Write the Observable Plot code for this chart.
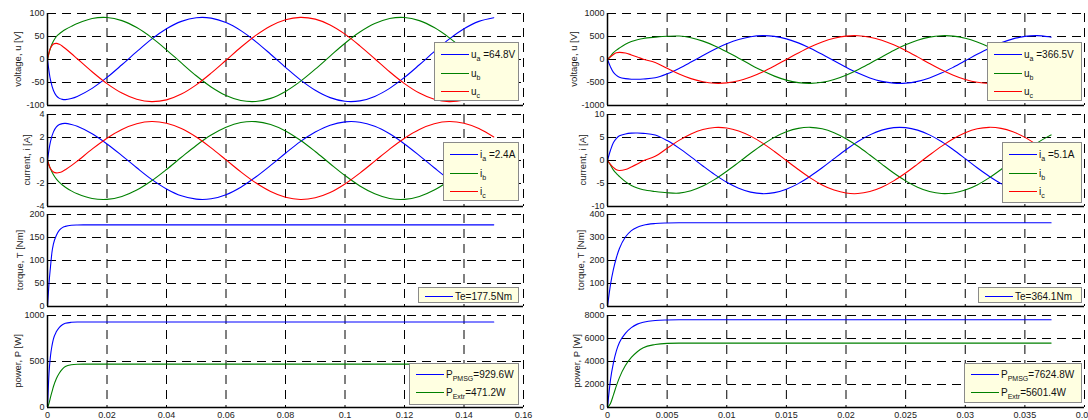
<!DOCTYPE html>
<html><head><meta charset="utf-8">
<script src="https://cdn.jsdelivr.net/npm/d3@7"></script>
<script src="https://cdn.jsdelivr.net/npm/@observablehq/plot@0.6"></script>
<style>
html,body{margin:0;padding:0;background:#fff;overflow:hidden}
#chart{position:relative;width:1088px;height:420px;font-family:"Liberation Sans",Arial,sans-serif;color:#222;background:#fff;overflow:hidden}
.ylab{position:absolute;font-size:9.5px;white-space:nowrap;transform:translate(-50%,-50%) rotate(-90deg);color:#222}
.leg{position:absolute;background:#ffffe1;border:1px solid #8a8a8a;box-sizing:border-box;font-size:10px;color:#111}
.row{position:absolute;left:6px;display:flex;align-items:center;height:14px;white-space:nowrap}
.sw{display:inline-block;width:28px;height:1px;margin-right:2px}
sub{font-size:7px;vertical-align:-3px;line-height:0}
</style></head><body><div id="chart"></div><script>
// ---------- LEFT column data (time in s) ----------
const tL = [0,0.001,0.002,0.003,0.004,0.005,0.006,0.008,0.01,0.015,0.02,0.025,0.03,0.035,0.04,0.045,0.05,0.055,0.06,0.065,0.07,0.075,0.08,0.085,0.09,0.095,0.1,0.105,0.11,0.115,0.12,0.125,0.13,0.135,0.14,0.145,0.15];
const uaL = [0,-44.5,-67.4,-79.0,-84.5,-86.7,-87.2,-84.7,-80.2,-62.7,-39.0,-11.5,17.1,44.2,66.8,82.9,90.9,90.0,80.2,62.7,39.0,11.5,-17.1,-44.2,-66.8,-82.9,-90.9,-90.0,-80.2,-62.7,-39.0,-11.5,17.1,44.2,66.8,82.9,90.9];
const ubL = [0,25,40,50,56,61,65,72,78.1,89.1,91.3,84.5,69.4,47.6,21.1,-7.5,-35.4,-59.7,-78.2,-89.1,-91.3,-84.5,-69.4,-47.6,-21.1,7.5,35.4,59.7,78.2,89.1,91.3,84.5,69.4,47.6,21.1,-7.5,-35.4];
const ucL = [0,24.7,33.6,35.1,32.9,28.9,24.0,13.1,1.7,-26.7,-52.4,-73.0,-86.6,-91.6,-87.7,-75.1,-55.1,-29.7,-1.7,26.7,52.4,73.0,86.6,91.6,87.7,75.1,55.1,29.7,1.7,-26.7,-52.4,-73.0,-86.6,-91.6,-87.7,-75.1,-55.1];
const iaL = [0,1.65,2.49,2.92,3.13,3.21,3.23,3.13,2.97,2.32,1.44,0.43,-0.63,-1.64,-2.47,-3.07,-3.36,-3.33,-2.97,-2.32,-1.44,-0.43,0.63,1.64,2.47,3.07,3.36,3.33,2.97,2.32,1.44,0.43,-0.63,-1.64,-2.47,-3.07,-3.36];
const ibL = [0,-0.73,-1.24,-1.62,-1.90,-2.13,-2.32,-2.64,-2.89,-3.30,-3.38,-3.13,-2.57,-1.76,-0.78,0.28,1.31,2.21,2.89,3.30,3.38,3.13,2.57,1.76,0.78,-0.28,-1.31,-2.21,-2.89,-3.30,-3.38,-3.13,-2.57,-1.76,-0.78,0.28,1.31];
const icL = [0,-0.7,-1.0,-1.08,-1.05,-0.95,-0.8,-0.45,-0.06,0.99,1.94,2.70,3.20,3.39,3.24,2.78,2.04,1.10,0.06,-0.99,-1.94,-2.70,-3.20,-3.39,-3.24,-2.78,-2.04,-1.10,-0.06,0.99,1.94,2.70,3.20,3.39,3.24,2.78,2.04];
const tTL = [0,0.0005,0.001,0.0015,0.002,0.003,0.004,0.005,0.006,0.008,0.01,0.012,0.15];
const teL = [0,50,86,118,136,155,166,171.5,174.2,176.7,177.3,177.5,177.5];
const pPmsgL = [0,370,560,670,745,825,872,900,915,926,929,929.6,929.6];
const pExtrL = [0,45,110,170,228,315,375,418,445,465,470,471.2,471.2];

// ---------- RIGHT column data ----------
const tR = [0,0.00025,0.0005,0.00075,0.001,0.0015,0.002,0.0025,0.003,0.004,0.005,0.006,0.007,0.008,0.009,0.01,0.011,0.012,0.013,0.014,0.015,0.016,0.017,0.018,0.019,0.02,0.021,0.022,0.023,0.024,0.025,0.026,0.027,0.028,0.029,0.03,0.031,0.032,0.033,0.034,0.035,0.036,0.037,0.0372];
const uaR = [0,-160,-280,-345,-385,-415,-428,-430,-424,-398.6,-311.5,-193.4,-56.7,85.4,221.1,340.5,433.8,494.5,518.3,502.2,448.9,361.3,246.2,113.5,-28.5,-168.4,-296.0,-400.1,-474.8,-513.1,-513.6,-474.8,-400.1,-296.0,-168.4,-29.0,113.5,246.2,361.3,448.9,502.2,518.3,494.5,485.6];
const ubR = [0,70,150,205,250,330,390,430,458,485,505,510,472.4,399.4,295.7,168.4,29.0,-113.0,-246.2,-361.3,-448.9,-502.2,-518.3,-495.0,-434.3,-340.5,-221.8,-85.5,56.5,195.4,318.2,417.7,485.6,516.7,508.5,462.3,381.5,271.6,141.0,0,-141.0,-271.6,-381.0,-399.6];
const ucR = [0,60,110,145,155,140,100,55,5,-65,-191.3,-315.0,-415.7,-484.7,-516.2,-508.5,-462.3,-381.0,-271.6,-141.0,0.5,141.0,271.6,381.5,462.3,509.0,516.7,485.1,417.7,318.2,195.4,57.0,-85.5,-221.3,-340.0,-433.3,-495.0,-518.3,-502.2,-448.9,-361.3,-246.2,-113.5,-85.5];
const iaR = [0,2.23,3.89,4.80,5.36,5.77,5.95,5.98,5.90,5.54,4.33,2.69,0.79,-1.19,-3.08,-4.74,-6.03,-6.88,-7.21,-6.99,-6.24,-5.03,-3.42,-1.58,0.40,2.34,4.12,5.57,6.60,7.14,7.14,6.60,5.57,4.12,2.34,0.40,-1.58,-3.42,-5.03,-6.24,-6.99,-7.21,-6.88,-6.75];
const ibR = [0,-0.97,-2.09,-2.85,-3.48,-4.59,-5.42,-5.98,-6.37,-6.75,-7.02,-7.09,-6.57,-5.56,-4.11,-2.34,-0.40,1.57,3.42,5.03,6.24,6.99,7.21,6.89,6.04,4.74,3.09,1.19,-0.79,-2.72,-4.43,-5.81,-6.75,-7.19,-7.07,-6.43,-5.31,-3.78,-1.96,0,1.96,3.78,5.30,5.56];
const icR = [0,-0.83,-1.53,-2.02,-2.16,-1.95,-1.39,-0.77,-0.07,0.9,2.66,4.38,5.78,6.74,7.18,7.07,6.43,5.30,3.78,1.96,-0.01,-1.96,-3.78,-5.31,-6.43,-7.08,-7.19,-6.75,-5.81,-4.43,-2.72,-0.79,1.19,3.08,4.73,6.03,6.89,7.21,6.99,6.24,5.03,3.42,1.58,1.19];
const tTR = [0,0.00025,0.0005,0.00075,0.001,0.0015,0.002,0.0025,0.003,0.004,0.005,0.006,0.0372];
const teR = [0,95,162,213,252,302,330,345,353.5,360.8,363.1,364.1,364.1];
const pPmsgR = [0,2400,3900,4950,5650,6450,6950,7250,7420,7570,7610,7624.8,7624.8];
const pExtrR = [0,350,1100,1900,2600,3650,4350,4850,5200,5480,5580,5601.4,5601.4];

// ---------- ticks ----------
const xTicksL = [0,0.02,0.04,0.06,0.08,0.1,0.12,0.14,0.16];
const xTicksR = [0,0.005,0.01,0.015,0.02,0.025,0.03,0.035,0.04];
const yTicksUL = [-100,-50,0,50,100], yTicksIL = [-4,-2,0,2,4], yTicksTL = [0,50,100,150,200], yTicksPL = [0,500,1000];
const yTicksUR = [-1000,-500,0,500,1000], yTicksIR = [-10,-5,0,5,10], yTicksTR = [0,100,200,300,400], yTicksPR = [0,2000,4000,6000,8000];

// ---------- labels ----------
const yLabels = ["voltage, u [V]", "current, i [A]", "torque, T [Nm]", "power,  P [W]"];
const legL = [["u<sub>a</sub> =64.8V","u<sub>b</sub>","u<sub>c</sub>"],["i<sub>a</sub> =2.4A","i<sub>b</sub>","i<sub>c</sub>"],["Te=177.5Nm"],["P<sub>PMSG</sub>=929.6W","P<sub>Extr</sub>=471.2W"]];
const legR = [["u<sub>a</sub> =366.5V","u<sub>b</sub>","u<sub>c</sub>"],["i<sub>a</sub> =5.1A","i<sub>b</sub>","i<sub>c</sub>"],["Te=364.1Nm"],["P<sub>PMSG</sub>=7624.8W","P<sub>Extr</sub>=5601.4W"]];

const BLUE = "#0000ff", GREEN = "#008000", RED = "#ff0000";
const chart = document.getElementById("chart");
const tops = [13, 113.5, 214, 315];
const PH = 92;
const zip = (t, v) => t.map((x, i) => ({t: x, v: v[i]}));

function panel(col, row, xDomain, xTicks, yTicks, series, showX) {
  const mL = col === 0 ? 47 : 63, mR = col === 0 ? 21 : 4;
  const mT = 10, mB = showX ? 22 : 10;
  const yDomain = [yTicks[0], yTicks[yTicks.length - 1]];
  const marks = [
    Plot.ruleY(yTicks, {stroke: "#000", strokeWidth: 1, strokeDasharray: "9,6"}),
    Plot.ruleX(xTicks, {stroke: "#000", strokeWidth: 1, strokeDasharray: "9,6"}),
    ...series.map(s => Plot.line(zip(s.t, s.v), {x: "t", y: "v", stroke: s.color, strokeWidth: 1.1, curve: s.curve || "catmull-rom"})),
    Plot.ruleX([xDomain[0]], {stroke: "#000", strokeWidth: 1.5}),
    Plot.ruleY([yDomain[0]], {stroke: "#000", strokeWidth: 1.5})
  ];
  const svg = Plot.plot({
    width: 544, height: PH + mT + mB,
    marginLeft: mL, marginRight: mR, marginTop: mT, marginBottom: mB,
    x: {domain: xDomain, ticks: xTicks, tickSize: 0, tickPadding: 4, tickFormat: d => String(d), label: null, axis: showX ? "bottom" : null},
    y: {domain: yDomain, ticks: yTicks, tickSize: 0, tickPadding: 3, tickFormat: d => String(d), label: null},
    style: {background: "transparent", overflow: "visible", fontSize: "9px", fontFamily: "'Liberation Sans', Arial, sans-serif", color: "#222"},
    marks
  });
  svg.style.position = "absolute";
  svg.style.left = (col === 0 ? 0 : 544) + "px";
  svg.style.top = (tops[row] - mT) + "px";
  chart.appendChild(svg);
}

function ylabel(text, cx, cy) {
  const d = document.createElement("div");
  d.className = "ylab"; d.textContent = text;
  d.style.left = cx + "px"; d.style.top = cy + "px";
  chart.appendChild(d);
}

function legend(x1, x2, y1, y2, rows, colors, centers) {
  const b = document.createElement("div");
  b.className = "leg";
  b.style.left = x1 + "px"; b.style.top = y1 + "px";
  b.style.width = (x2 - x1) + "px"; b.style.height = (y2 - y1) + "px";
  rows.forEach((html, i) => {
    const r = document.createElement("div");
    r.className = "row";
    r.style.top = (centers[i] - 7) + "px";
    r.innerHTML = `<span class="sw" style="background:${colors[i]}"></span><span>${html}</span>`;
    b.appendChild(r);
  });
  chart.appendChild(b);
}

const dL = [0, 0.16], dR = [0, 0.04];
// Left column
panel(0, 0, dL, xTicksL, yTicksUL, [{t: tL, v: uaL, color: BLUE}, {t: tL, v: ubL, color: GREEN}, {t: tL, v: ucL, color: RED}], false);
panel(0, 1, dL, xTicksL, yTicksIL, [{t: tL, v: iaL, color: BLUE}, {t: tL, v: ibL, color: GREEN}, {t: tL, v: icL, color: RED}], false);
panel(0, 2, dL, xTicksL, yTicksTL, [{t: tTL, v: teL, color: BLUE, curve: "monotone-x"}], false);
panel(0, 3, dL, xTicksL, yTicksPL, [{t: tTL, v: pPmsgL, color: BLUE, curve: "monotone-x"}, {t: tTL, v: pExtrL, color: GREEN, curve: "monotone-x"}], true);
// Right column
panel(1, 0, dR, xTicksR, yTicksUR, [{t: tR, v: uaR, color: BLUE}, {t: tR, v: ubR, color: GREEN}, {t: tR, v: ucR, color: RED}], false);
panel(1, 1, dR, xTicksR, yTicksIR, [{t: tR, v: iaR, color: BLUE}, {t: tR, v: ibR, color: GREEN}, {t: tR, v: icR, color: RED}], false);
panel(1, 2, dR, xTicksR, yTicksTR, [{t: tTR, v: teR, color: BLUE, curve: "monotone-x"}], false);
panel(1, 3, dR, xTicksR, yTicksPR, [{t: tTR, v: pPmsgR, color: BLUE, curve: "monotone-x"}, {t: tTR, v: pExtrR, color: GREEN, curve: "monotone-x"}], true);

// y labels
const mid = tops.map(t => t + PH / 2);
ylabel(yLabels[0], 17, mid[0]); ylabel(yLabels[1], 26, mid[1]); ylabel(yLabels[2], 19, mid[2]); ylabel(yLabels[3], 17, mid[3]);
ylabel(yLabels[0], 573, mid[0]); ylabel(yLabels[1], 582, mid[1]); ylabel(yLabels[2], 580, mid[2]); ylabel(yLabels[3], 576, mid[3]);

// legends
const C3 = [BLUE, GREEN, RED];
legend(434, 519, 42, 101, legL[0], C3, [11, 30, 48]);
legend(443, 519, 142, 201, legL[1], C3, [11, 30, 48]);
legend(418, 519, 287, 303, legL[2], [BLUE], [8]);
legend(409, 519, 363, 405, legL[3], [BLUE, GREEN], [10, 28]);
legend(987, 1082, 42, 101, legR[0], C3, [11, 30, 48]);
legend(1002, 1082, 142, 203, legR[1], C3, [11, 30, 48]);
legend(978, 1082, 287, 303, legR[2], [BLUE], [8]);
legend(964, 1082, 363, 403, legR[3], [BLUE, GREEN], [10, 28]);
</script></body></html>
